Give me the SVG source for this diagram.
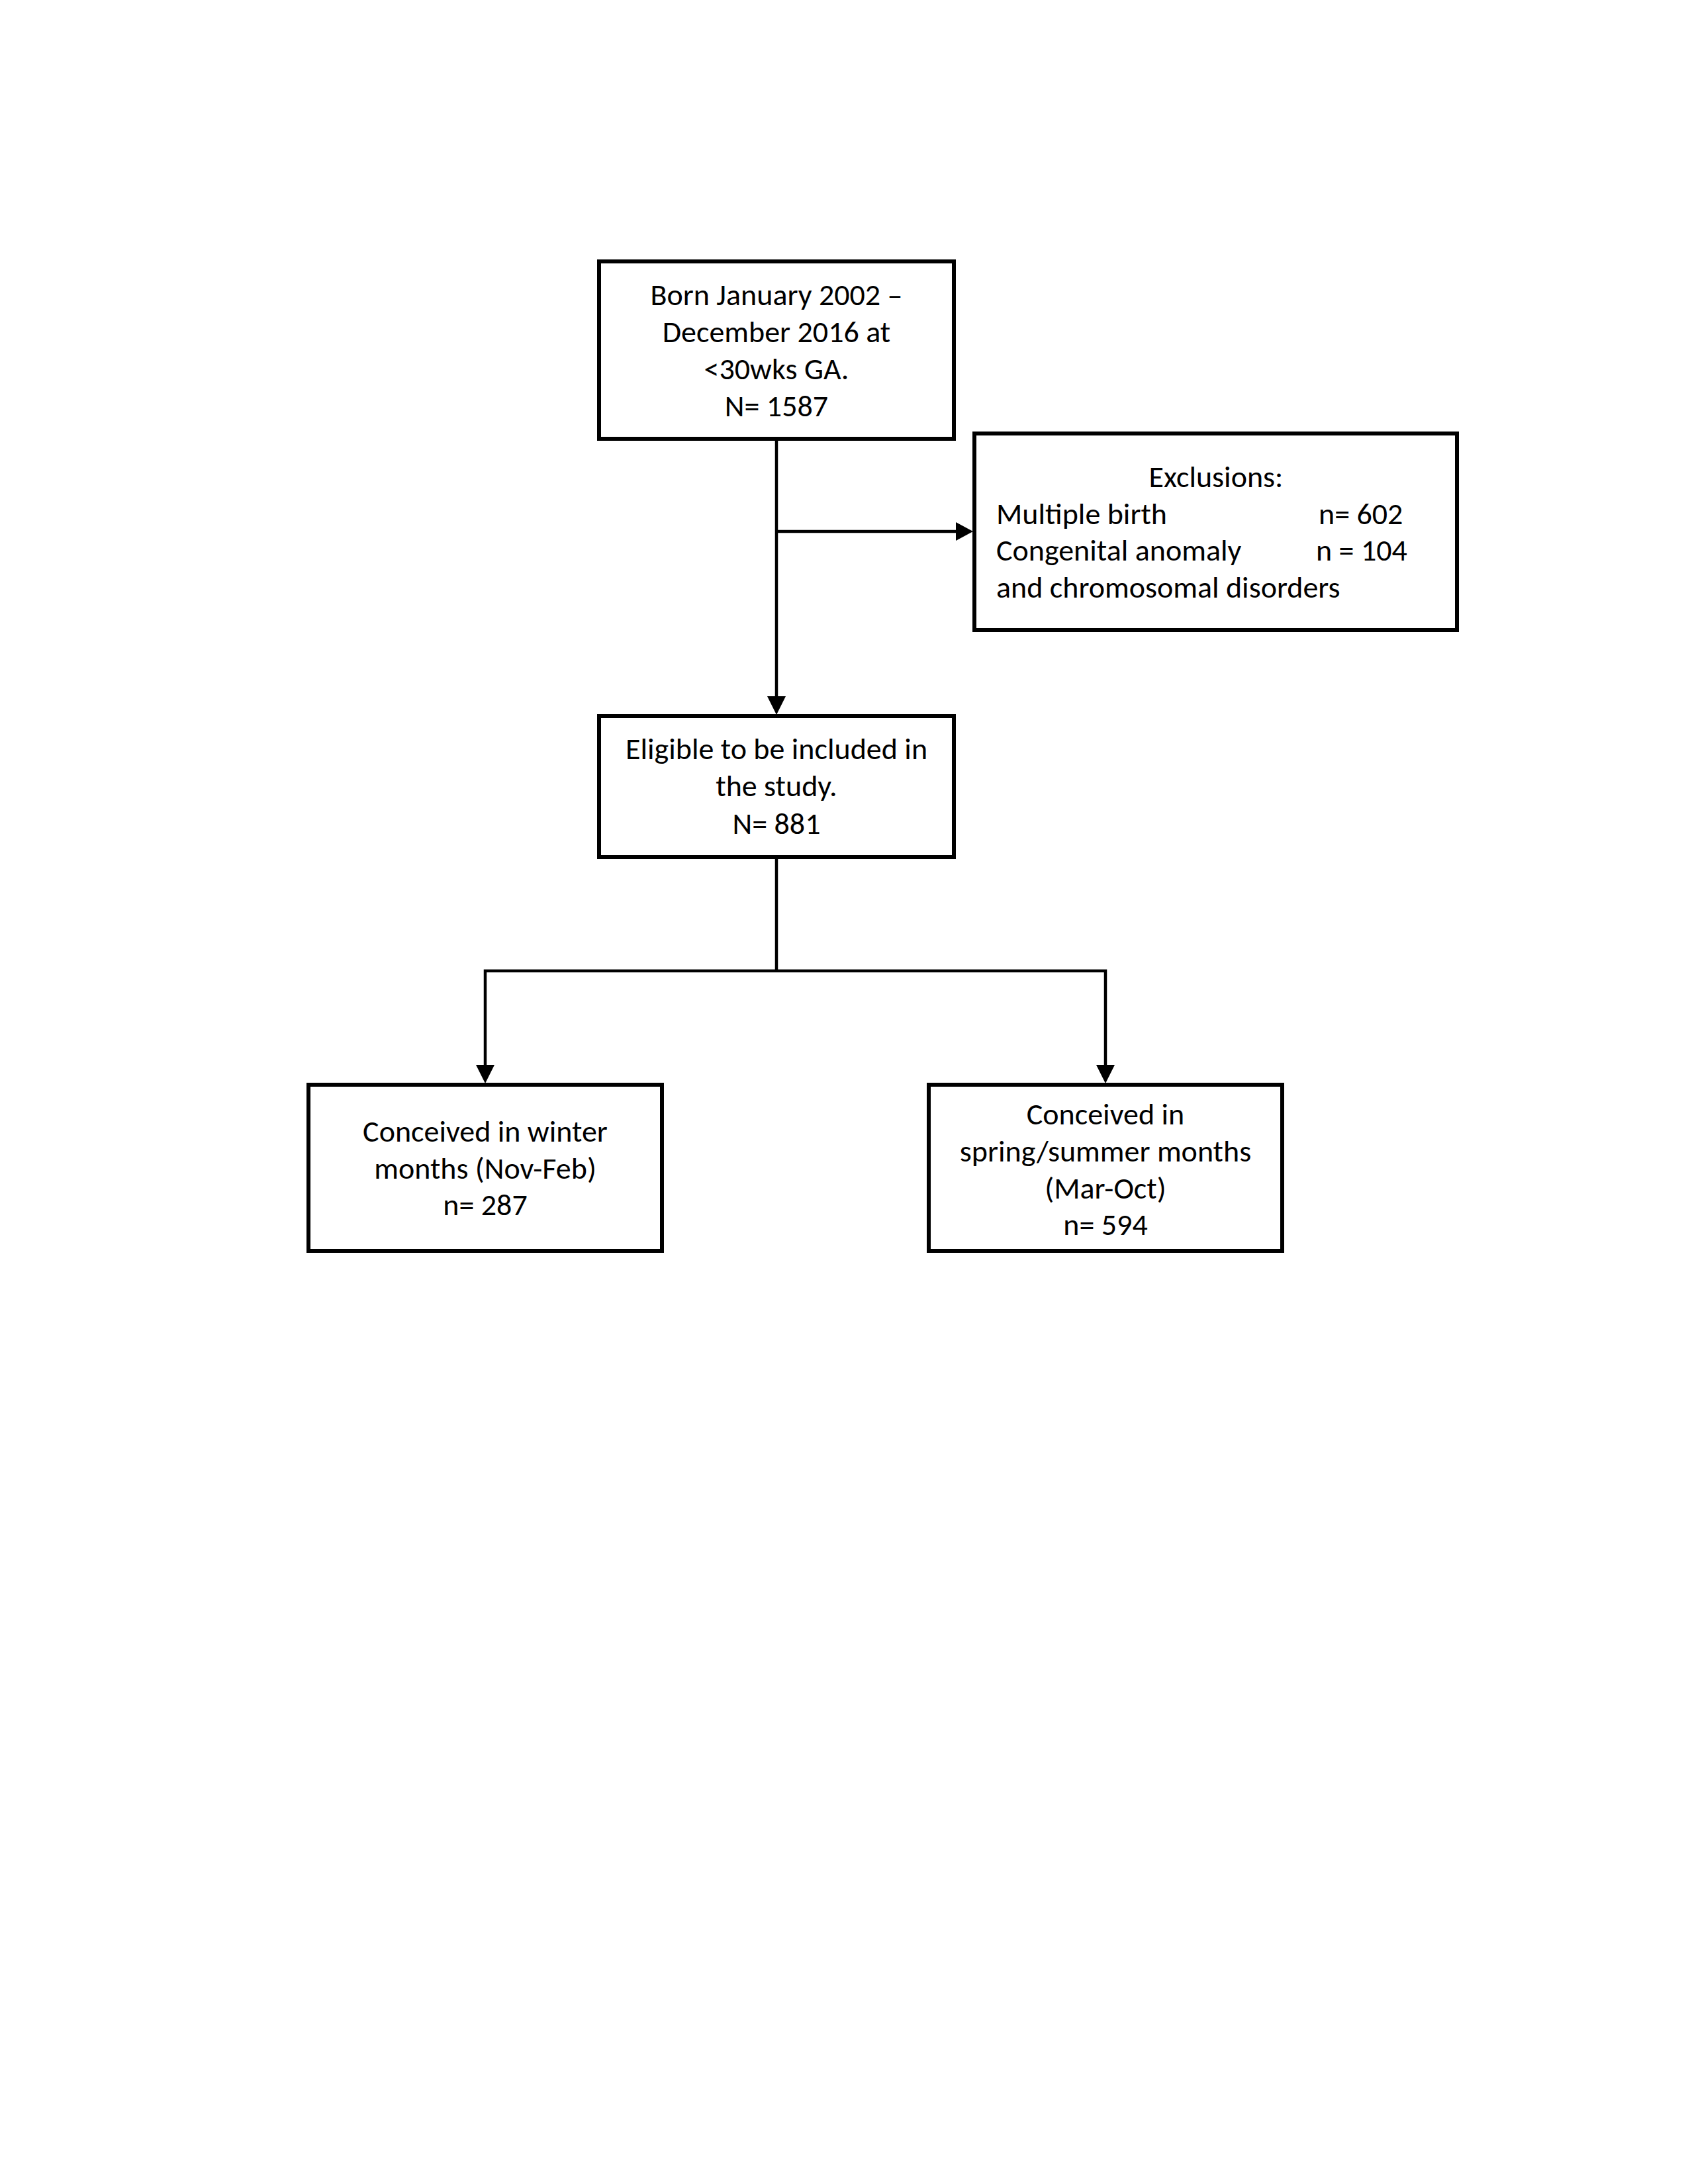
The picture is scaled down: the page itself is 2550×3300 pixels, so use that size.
<svg xmlns="http://www.w3.org/2000/svg" width="2550" height="3300" viewBox="0 0 2550 3300">
<style>
.box{fill:#fff;stroke:#000;stroke-width:6}
.t{font-family:Carlito,Lato,"Liberation Sans",sans-serif;font-size:46px;fill:#000}
.c{text-anchor:middle}
.ln{fill:none;stroke:#000;stroke-width:4.5}
</style>
<rect width="2550" height="3300" fill="#fff"/>
<g id="connectors">
<line class="ln" x1="1173" y1="665" x2="1173" y2="1055"/>
<path d="M1159,1052 L1187,1052 L1173,1080 Z" fill="#000"/>
<line class="ln" x1="1173" y1="803" x2="1446" y2="803"/>
<path d="M1444,789 L1444,817 L1470,803 Z" fill="#000"/>
<line class="ln" x1="1173" y1="1297" x2="1173" y2="1467"/>
<polyline class="ln" points="733,1612 733,1467 1670,1467 1670,1612"/>
<path d="M719,1609 L747,1609 L733,1637 Z" fill="#000"/>
<path d="M1656,1609 L1684,1609 L1670,1637 Z" fill="#000"/>
</g>
<g id="born">
<rect class="box" x="905" y="395" width="536" height="268"/>
<text class="t c" x="1173" y="461">Born January 2002 –</text>
<text class="t c" x="1173" y="517">December 2016 at</text>
<text class="t c" x="1173" y="573">&lt;30wks GA.</text>
<text class="t c" x="1173" y="629">N= 1587</text>
</g>
<g id="exclusions">
<rect class="box" x="1472" y="655" width="729" height="297"/>
<text class="t c" x="1837" y="736">Exclusions:</text>
<text class="t" x="1505" y="792">Multiple birth</text>
<text class="t" x="1992" y="792">n= 602</text>
<text class="t" x="1505" y="847">Congenital anomaly</text>
<text class="t" x="1988" y="847">n = 104</text>
<text class="t" x="1505" y="903">and chromosomal disorders</text>
</g>
<g id="eligible">
<rect class="box" x="905" y="1082" width="536" height="213"/>
<text class="t c" x="1173" y="1147">Eligible to be included in</text>
<text class="t c" x="1173" y="1203">the study.</text>
<text class="t c" x="1173" y="1260">N= 881</text>
</g>
<g id="winter">
<rect class="box" x="466" y="1639" width="534" height="251"/>
<text class="t c" x="733" y="1725">Conceived in winter</text>
<text class="t c" x="733" y="1781">months (Nov-Feb)</text>
<text class="t c" x="733" y="1836">n= 287</text>
</g>
<g id="spring">
<rect class="box" x="1403" y="1639" width="534" height="251"/>
<text class="t c" x="1670" y="1699">Conceived in</text>
<text class="t c" x="1670" y="1755">spring/summer months</text>
<text class="t c" x="1670" y="1811">(Mar-Oct)</text>
<text class="t c" x="1670" y="1866">n= 594</text>
</g>
</svg>
